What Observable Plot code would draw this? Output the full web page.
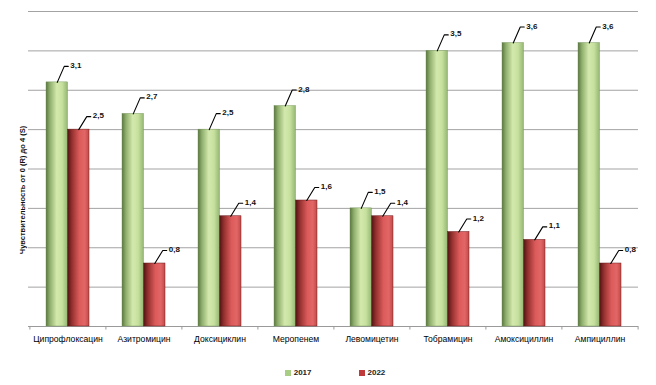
<!DOCTYPE html>
<html>
<head>
<meta charset="utf-8">
<script src="https://cdn.jsdelivr.net/npm/d3@7"></script>
<script src="https://cdn.jsdelivr.net/npm/@observablehq/plot@0.6"></script>
<style>
  html, body { margin: 0; padding: 0; background: #fff; }
  #chart { width: 656px; font-family: "Liberation Sans", Arial, sans-serif; }
  .legend { display: flex; justify-content: center; gap: 47px; font: bold 8px "Liberation Sans", Arial, sans-serif; color: #222; height: 29px; align-items: center; margin-top: 2px; padding-left: 14px; }
  .legend span.sw { display: inline-block; width: 6px; height: 6px; margin-right: 3px; vertical-align: -0.5px; }
</style>
</head>
<body>
<div id="chart"></div>
<script>
const categories = ["Ципрофлоксацин", "Азитромицин", "Доксициклин", "Меропенем", "Левомицетин", "Тобрамицин", "Амоксициллин", "Ампициллин"];
const values2017 = [3.1, 2.7, 2.5, 2.8, 1.5, 3.5, 3.6, 3.6];
const values2022 = [2.5, 0.8, 1.4, 1.6, 1.4, 1.2, 1.1, 0.8];
const series = ["2017", "2022"];
const gridTicks = [0.5, 1, 1.5, 2, 2.5, 3, 3.5, 4];
const yLabel = "Чувствительность от 0 (R) до 4 (S)";

const d17 = categories.map((c, i) => ({category: c, value: values2017[i]}));
const d22 = categories.map((c, i) => ({category: c, value: values2022[i]}));
const fmt = d => d.value.toFixed(1).replace(".", ",");

const W = 656, H = 356;
const half = 21.5;

const leader17 = {draw(ctx) { ctx.moveTo(0, 0); ctx.lineTo(7, -16); ctx.lineTo(11, -16); }};
const leader22 = {draw(ctx) { ctx.moveTo(0, 0); ctx.lineTo(8, -13); ctx.lineTo(12, -13); }};

const plot = Plot.plot({
  width: W,
  height: H,
  marginLeft: 28,
  marginRight: 18,
  marginTop: 11,
  marginBottom: 30,
  style: {fontFamily: "'Liberation Sans', Arial, sans-serif", background: "#fff"},
  x: {domain: categories, paddingInner: 0.436, paddingOuter: 0.218, label: null, tickSize: 0, tickPadding: 9},
  y: {domain: [0, 4], axis: null},
  marks: [
    Plot.ruleY(gridTicks, {stroke: "#a3a3a3", strokeWidth: 1}),
    Plot.ruleY([0], {stroke: "#9a9a9a", strokeWidth: 1}),
    Plot.ruleX(categories, {x: d => d, y1: 0, y2: -0.045, dx: -38.1, stroke: "#9a9a9a"}),
    Plot.ruleX(categories.slice(-1), {x: d => d, y1: 0, y2: -0.045, dx: 38.1, stroke: "#9a9a9a"}),
    Plot.barY(d17, {x: "category", y: "value", insetRight: half, fill: "url(#gGreen)", stroke: "#6f8f55", strokeWidth: 0.4}),
    Plot.barY(d22, {x: "category", y: "value", insetLeft: half, fill: "url(#gRed)", stroke: "#6a1c1c", strokeWidth: 0.5}),
    Plot.vector(d17, {x: "category", y: "value", dx: -half / 2, length: 16, shape: leader17, anchor: "start", stroke: "#000", strokeWidth: 1.1, fill: "none"}),
    Plot.vector(d22, {x: "category", y: "value", dx: half / 2, length: 13, shape: leader22, anchor: "start", stroke: "#000", strokeWidth: 1.1, fill: "none"}),
    Plot.text(d17, {x: "category", y: "value", text: fmt, dx: -half / 2 + 13, dy: -17, textAnchor: "start", fontSize: 8, fontWeight: "bold", fill: "#111"}),
    Plot.text(d22, {x: "category", y: "value", text: fmt, dx: half / 2 + 14, dy: -14, textAnchor: "start", fontSize: 8, fontWeight: "bold", fill: "#111"}),
    Plot.text([yLabel], {frameAnchor: "left", rotate: -90, dx: -6, dy: 21, textAnchor: "middle", fontSize: 7.5, fontWeight: "bold", fill: "#111"}),
    Plot.axisX({tickSize: 0, tickPadding: 9, fontSize: 8.6, label: null, fill: "#000"})
  ]
});

const svg = d3.select(plot);
const defs = svg.insert("defs", ":first-child");
const gg = defs.append("linearGradient").attr("id", "gGreen").attr("x1", 0).attr("x2", 1).attr("y1", 0).attr("y2", 0);
[["0%", "#5a7640"], ["18%", "#8fae6c"], ["50%", "#d3e9ad"], ["75%", "#c6e09e"], ["100%", "#95b774"]].forEach(([o, c]) => gg.append("stop").attr("offset", o).attr("stop-color", c));
const gr = defs.append("linearGradient").attr("id", "gRed").attr("x1", 0).attr("x2", 1).attr("y1", 0).attr("y2", 0);
[["0%", "#4e1212"], ["20%", "#93302e"], ["55%", "#dc5a5a"], ["80%", "#e26666"], ["100%", "#c24a48"]].forEach(([o, c]) => gr.append("stop").attr("offset", o).attr("stop-color", c));

document.getElementById("chart").appendChild(plot);

const legend = document.createElement("div");
legend.className = "legend";
const colors = {"2017": "#a9cd85", "2022": "#c0393b"};
series.forEach(s => {
  const item = document.createElement("div");
  item.innerHTML = `<span class="sw" style="background:${colors[s]}"></span>${s}`;
  legend.appendChild(item);
});
document.getElementById("chart").appendChild(legend);
</script>
</body>
</html>
